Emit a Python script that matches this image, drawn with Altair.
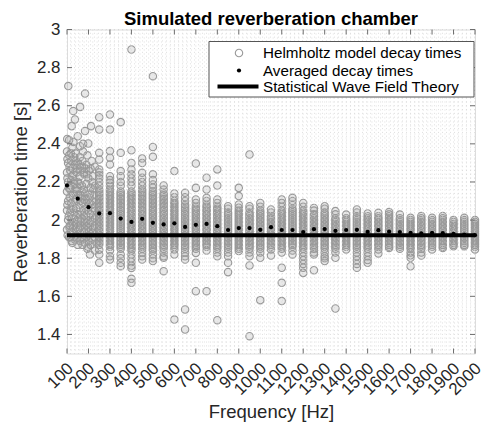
import altair as alt
import pandas as pd

# ---------------- data ----------------
avg_freqs = [100, 150, 200, 250, 300, 350, 400, 450, 500, 550, 600, 650, 700, 750,
             800, 850, 900, 950, 1000, 1050, 1100, 1150, 1200, 1250, 1300, 1350,
             1400, 1450, 1500, 1550, 1600, 1650, 1700, 1750, 1800, 1850, 1900,
             1950, 2000]
avg_times = [2.182, 2.112, 2.068, 2.035, 2.036, 2.008, 1.990, 2.007, 1.986, 1.977,
             1.983, 1.964, 1.975, 1.980, 1.968, 1.948, 1.958, 1.958, 1.949, 1.963,
             1.948, 1.948, 1.937, 1.952, 1.953, 1.944, 1.948, 1.949, 1.938, 1.947,
             1.939, 1.937, 1.933, 1.930, 1.933, 1.931, 1.928, 1.924, 1.921]
theory_time = 1.92

# low-frequency cloud (individual frequencies, 100-240 Hz)
cloud_freqs = [106, 184, 161, 129, 137, 122, 101, 212, 184, 199, 161,
               110, 150, 130, 175,
               100, 110, 125, 140, 160, 175, 195, 215,
               105, 120, 135, 150, 170, 190, 210, 230,
               100, 115, 130, 145, 160, 180, 200, 220,
               105, 120, 135, 150, 170, 190, 210, 230,
               100, 115, 130, 145, 165, 185, 205, 225,
               105, 120, 140, 155, 175, 195, 215,
               100, 115, 130, 150, 170, 190, 210, 230,
               105, 125, 145, 165, 185, 205, 225,
               100, 120, 140, 160, 180, 200, 220,
               110, 135, 160, 185, 210, 207, 195, 150, 125, 230,
               102, 112, 118, 127, 133, 142, 148, 157, 163, 172, 178, 187, 193, 202, 217, 223,
               102, 108, 113, 118, 123, 127, 133, 138, 143, 148, 153, 158, 163, 168, 173,
               178, 183, 188, 193, 198, 203, 208, 213, 218, 228, 235,
               102, 108, 113, 118, 123, 128, 133, 138, 143, 148, 153, 158, 163, 168, 173,
               178, 183, 188, 193, 198, 203, 208, 213, 218, 228, 235,
               103, 112, 117, 127, 132, 142, 147, 157, 167, 177, 192, 202, 217, 227, 237,
               122, 172, 197]
cloud_times = [2.703, 2.664, 2.594, 2.572, 2.528, 2.493, 2.426, 2.493, 2.467, 2.402, 2.388,
               2.42, 2.44, 2.41, 2.40,
               2.36, 2.34, 2.38, 2.35, 2.33, 2.36, 2.34, 2.31,
               2.30, 2.31, 2.29, 2.30, 2.28, 2.29, 2.27, 2.28,
               2.25, 2.26, 2.24, 2.25, 2.23, 2.24, 2.22, 2.23,
               2.20, 2.21, 2.19, 2.20, 2.18, 2.19, 2.17, 2.18,
               2.15, 2.16, 2.14, 2.15, 2.13, 2.14, 2.12, 2.13,
               2.10, 2.09, 2.10, 2.08, 2.09, 2.07, 2.08,
               2.05, 2.04, 2.06, 2.03, 2.04, 2.02, 2.03, 2.01,
               2.00, 1.99, 1.98, 1.99, 1.97, 1.98, 1.96,
               1.95, 1.94, 1.95, 1.93, 1.94, 1.92, 1.93,
               1.91, 1.90, 1.89, 1.88, 1.87, 1.82, 1.85, 1.87, 1.88, 1.84,
               2.32, 2.28, 2.35, 2.27, 2.33, 2.31, 2.27, 2.29, 2.26, 2.31, 2.25, 2.27, 2.24, 2.26, 2.20, 2.16,
               2.22, 2.17, 2.12, 2.18, 2.23, 2.13, 2.20, 2.16, 2.11, 2.17, 2.13, 2.19, 2.10, 2.15, 2.12,
               2.16, 2.11, 2.06, 2.10, 2.05, 2.09, 2.14, 2.05, 2.10, 2.06, 2.10,
               2.08, 2.02, 1.97, 2.06, 2.01, 1.96, 2.04, 1.99, 2.06, 2.00, 1.95, 2.03, 1.97, 2.01, 1.96,
               2.02, 1.99, 1.95, 2.00, 1.96, 1.94, 2.00, 1.95, 1.99, 1.97, 2.02,
               1.92, 1.96, 1.91, 1.93, 1.97, 1.92, 1.90, 1.96, 1.91, 1.90, 1.91, 1.89, 1.90, 1.91, 1.88,
               1.89, 1.87, 1.86]

band_freqs = [250, 300, 350, 400, 450, 500, 550, 600, 650, 700, 750, 800, 850, 900,
              950, 1000, 1050, 1100, 1150, 1200, 1250, 1300, 1350, 1400, 1450,
              1500, 1550, 1600, 1650, 1700, 1750, 1800, 1850, 1900, 1950, 2000]
band_times = [
    # 250
    [2.54, 2.475, 2.353, 2.318, 2.265, 2.25, 2.235, 2.22, 2.2, 2.18,
     2.16, 2.15, 2.14, 2.13, 2.12, 2.11, 2.10, 2.09, 2.08, 2.07, 2.06, 2.05, 2.04, 2.03, 2.02,
     2.01, 2.00, 1.99, 1.98, 1.97, 1.96, 1.95, 1.94, 1.93, 1.92, 1.91, 1.90, 1.89, 1.88, 1.87,
     1.845, 1.82, 1.776],
    # 300
    [2.554, 2.475, 2.362, 2.327, 2.292, 2.23, 2.21, 2.196, 2.18,
     2.16, 2.15, 2.14, 2.13, 2.12, 2.11, 2.10, 2.09, 2.08, 2.07, 2.06, 2.05, 2.04, 2.03, 2.02,
     2.01, 2.00, 1.99, 1.98, 1.97, 1.96, 1.95, 1.94, 1.93, 1.92, 1.91, 1.90, 1.89, 1.88, 1.87, 1.86,
     1.84, 1.81, 1.793],
    # 350
    [2.514, 2.353, 2.257, 2.23, 2.2, 2.18,
     2.15, 2.14, 2.13, 2.12, 2.11, 2.10, 2.09, 2.08, 2.07, 2.06, 2.05, 2.04, 2.03, 2.02,
     2.01, 2.00, 1.99, 1.98, 1.97, 1.96, 1.95, 1.94, 1.93, 1.92, 1.91, 1.90, 1.89, 1.88, 1.87, 1.86, 1.85,
     1.82, 1.8, 1.776, 1.758],
    # 400
    [2.895, 2.367, 2.3, 2.265, 2.24, 2.22, 2.2, 2.18,
     2.15, 2.14, 2.13, 2.12, 2.11, 2.10, 2.09, 2.08, 2.07, 2.06, 2.05, 2.04, 2.03, 2.02,
     2.01, 2.00, 1.99, 1.98, 1.97, 1.96, 1.95, 1.94, 1.93, 1.92, 1.91, 1.90, 1.89, 1.88, 1.87, 1.86, 1.85, 1.84,
     1.82, 1.8, 1.78, 1.76, 1.749, 1.692, 1.671],
    # 450
    [2.323, 2.3, 2.248, 2.222, 2.2, 2.18,
     2.16, 2.15, 2.14, 2.13, 2.12, 2.11, 2.10, 2.09, 2.08, 2.07, 2.06, 2.05, 2.04, 2.03, 2.02,
     2.01, 2.00, 1.99, 1.98, 1.97, 1.96, 1.95, 1.94, 1.93, 1.92, 1.91, 1.90, 1.89, 1.88, 1.87, 1.86, 1.85,
     1.83, 1.81, 1.793],
    # 500
    [2.755, 2.384, 2.332, 2.24, 2.21, 2.187, 2.17,
     2.15, 2.14, 2.13, 2.12, 2.11, 2.10, 2.09, 2.08, 2.07, 2.06, 2.05, 2.04, 2.03, 2.02,
     2.01, 2.00, 1.99, 1.98, 1.97, 1.96, 1.95, 1.94, 1.93, 1.92, 1.91, 1.90, 1.89, 1.88, 1.87, 1.86, 1.85, 1.84,
     1.82, 1.8, 1.785],
    # 550
    [2.182, 2.16,
     2.14, 2.13, 2.12, 2.11, 2.10, 2.09, 2.08, 2.07, 2.06, 2.05, 2.04, 2.03, 2.02,
     2.01, 2.00, 1.99, 1.98, 1.97, 1.96, 1.95, 1.94, 1.93, 1.92, 1.91, 1.90, 1.89, 1.88, 1.87, 1.86, 1.85,
     1.83, 1.81, 1.802, 1.732],
    # 600
    [2.257, 2.14, 2.12,
     2.10, 2.09, 2.08, 2.07, 2.06, 2.05, 2.04, 2.03, 2.02,
     2.01, 2.00, 1.99, 1.98, 1.97, 1.96, 1.95, 1.94, 1.93, 1.92, 1.91, 1.90, 1.89, 1.88, 1.87, 1.86,
     1.846, 1.82, 1.478],
    # 650
    [2.143, 2.12, 2.1,
     2.08, 2.07, 2.06, 2.05, 2.04, 2.03, 2.02,
     2.01, 2.00, 1.99, 1.98, 1.97, 1.96, 1.95, 1.94, 1.93, 1.92, 1.91, 1.90, 1.89, 1.88, 1.87, 1.86, 1.85,
     1.83, 1.81, 1.793, 1.531, 1.426],
    # 700
    [2.297, 2.169, 2.108, 2.09,
     2.07, 2.06, 2.05, 2.04, 2.03, 2.02,
     2.01, 2.00, 1.99, 1.98, 1.97, 1.96, 1.95, 1.94, 1.93, 1.92, 1.91, 1.90, 1.89, 1.88, 1.87, 1.86, 1.85,
     1.828, 1.776, 1.627],
    # 750
    [2.222, 2.16, 2.117, 2.1,
     2.08, 2.07, 2.06, 2.05, 2.04, 2.03, 2.02,
     2.01, 2.00, 1.99, 1.98, 1.97, 1.96, 1.95, 1.94, 1.93, 1.92, 1.91, 1.90, 1.89, 1.88, 1.87, 1.86,
     1.84, 1.627],
    # 800
    [2.266, 2.181, 2.108, 2.09,
     2.07, 2.06, 2.05, 2.04, 2.03, 2.02,
     2.01, 2.00, 1.99, 1.98, 1.97, 1.96, 1.95, 1.94, 1.93, 1.92, 1.91, 1.90, 1.89, 1.88, 1.87, 1.86, 1.85,
     1.83, 1.81, 1.475],
    # 850
    [2.073, 2.06,
     2.04, 2.03, 2.02,
     2.01, 2.00, 1.99, 1.98, 1.97, 1.96, 1.95, 1.94, 1.93, 1.92, 1.91, 1.90, 1.89, 1.88, 1.87, 1.86, 1.85,
     1.83, 1.81, 1.776, 1.727],
    # 900
    [2.169, 2.126, 2.082, 2.065,
     2.05, 2.04, 2.03, 2.02,
     2.01, 2.00, 1.99, 1.98, 1.97, 1.96, 1.95, 1.94, 1.93, 1.92, 1.91, 1.90, 1.89, 1.88, 1.87, 1.86, 1.85,
     1.838],
    # 950
    [2.344, 2.073, 2.06,
     2.04, 2.03, 2.02,
     2.01, 2.00, 1.99, 1.98, 1.97, 1.96, 1.95, 1.94, 1.93, 1.92, 1.91, 1.90, 1.89, 1.88, 1.87, 1.86, 1.85,
     1.83, 1.81, 1.762, 1.391],
    # 1000
    [2.09, 2.07,
     2.05, 2.04, 2.03, 2.02,
     2.01, 2.00, 1.99, 1.98, 1.97, 1.96, 1.95, 1.94, 1.93, 1.92, 1.91, 1.90, 1.89, 1.88, 1.87, 1.86, 1.85,
     1.83, 1.802, 1.58],
    # 1050
    [2.056, 2.04,
     2.02, 2.01, 2.00, 1.99, 1.98, 1.97, 1.96, 1.95, 1.94, 1.93, 1.92, 1.91, 1.90, 1.89, 1.88, 1.87, 1.86,
     1.846, 1.814],
    # 1100
    [2.108, 2.09, 2.07,
     2.05, 2.04, 2.03, 2.02,
     2.01, 2.00, 1.99, 1.98, 1.97, 1.96, 1.95, 1.94, 1.93, 1.92, 1.91, 1.90, 1.89, 1.88, 1.87, 1.86,
     1.85, 1.83, 1.75, 1.671, 1.575],
    # 1150
    [2.117, 2.1, 2.08,
     2.06, 2.05, 2.04, 2.03, 2.02,
     2.01, 2.00, 1.99, 1.98, 1.97, 1.96, 1.95, 1.94, 1.93, 1.92, 1.91, 1.90, 1.89, 1.88, 1.87, 1.86,
     1.84, 1.82],
    # 1200
    [2.09, 2.07,
     2.05, 2.04, 2.03, 2.02,
     2.01, 2.00, 1.99, 1.98, 1.97, 1.96, 1.95, 1.94, 1.93, 1.92, 1.91, 1.90, 1.89, 1.88, 1.87, 1.86, 1.85,
     1.83, 1.81, 1.79, 1.77, 1.75, 1.723],
    # 1250
    [2.064, 2.05,
     2.03, 2.02,
     2.01, 2.00, 1.99, 1.98, 1.97, 1.96, 1.95, 1.94, 1.93, 1.92, 1.91, 1.90, 1.89, 1.88, 1.87, 1.86, 1.85,
     1.83, 1.82, 1.737],
    # 1300
    [2.073, 2.06,
     2.04, 2.03, 2.02,
     2.01, 2.00, 1.99, 1.98, 1.97, 1.96, 1.95, 1.94, 1.93, 1.92, 1.91, 1.90, 1.89, 1.88, 1.87, 1.86, 1.85,
     1.83, 1.81, 1.8, 1.785],
    # 1350
    [2.047, 2.03,
     2.01, 2.00, 1.99, 1.98, 1.97, 1.96, 1.95, 1.94, 1.93, 1.92, 1.91, 1.90, 1.89, 1.88, 1.87, 1.86, 1.85,
     1.83, 1.802, 1.536],
    # 1400
    [2.029,
     2.01, 2.00, 1.99, 1.98, 1.97, 1.96, 1.95, 1.94, 1.93, 1.92, 1.91, 1.90, 1.89, 1.88, 1.87, 1.86,
     1.846],
    # 1450
    [2.056, 2.04,
     2.02, 2.01, 2.00, 1.99, 1.98, 1.97, 1.96, 1.95, 1.94, 1.93, 1.92, 1.91, 1.90, 1.89, 1.88, 1.87, 1.86, 1.85,
     1.83, 1.81, 1.79, 1.77, 1.75],
    # 1500
    [2.035,
     2.02, 2.01, 2.00, 1.99, 1.98, 1.97, 1.96, 1.95, 1.94, 1.93, 1.92, 1.91, 1.90, 1.89, 1.88, 1.87, 1.86, 1.85,
     1.83, 1.81, 1.79, 1.776],
    # 1550
    [2.038,
     2.02, 2.01, 2.00, 1.99, 1.98, 1.97, 1.96, 1.95, 1.94, 1.93, 1.92, 1.91, 1.90, 1.89, 1.88, 1.87, 1.86,
     1.846, 1.825],
    # 1600
    [2.042,
     2.03, 2.02, 2.01, 2.00, 1.99, 1.98, 1.97, 1.96, 1.95, 1.94, 1.93, 1.92, 1.91, 1.90, 1.89, 1.88, 1.87, 1.86,
     1.854],
    # 1650
    [2.029,
     2.01, 2.00, 1.99, 1.98, 1.97, 1.96, 1.95, 1.94, 1.93, 1.92, 1.91, 1.90, 1.89, 1.88, 1.87, 1.86,
     1.85],
    # 1700
    [2.012,
     2.00, 1.99, 1.98, 1.97, 1.96, 1.95, 1.94, 1.93, 1.92, 1.91, 1.90, 1.89, 1.88, 1.87, 1.86, 1.85,
     1.83, 1.815, 1.802, 1.758],
    # 1750
    [2.021,
     2.01, 2.00, 1.99, 1.98, 1.97, 1.96, 1.95, 1.94, 1.93, 1.92, 1.91, 1.90, 1.89, 1.88, 1.87, 1.86, 1.85,
     1.83, 1.814],
    # 1800
    [2.012,
     2.00, 1.99, 1.98, 1.97, 1.96, 1.95, 1.94, 1.93, 1.92, 1.91, 1.90, 1.89, 1.88, 1.87, 1.86,
     1.846],
    # 1850
    [2.021,
     2.01, 2.00, 1.99, 1.98, 1.97, 1.96, 1.95, 1.94, 1.93, 1.92, 1.91, 1.90, 1.89, 1.88, 1.87, 1.86,
     1.854],
    # 1900
    [2.0,
     1.99, 1.98, 1.97, 1.96, 1.95, 1.94, 1.93, 1.92, 1.91, 1.90, 1.89, 1.88, 1.87,
     1.863],
    # 1950
    [2.012,
     2.00, 1.99, 1.98, 1.97, 1.96, 1.95, 1.94, 1.93, 1.92, 1.91, 1.90, 1.89, 1.88, 1.87,
     1.863],
    # 2000
    [2.0,
     1.99, 1.98, 1.97, 1.96, 1.95, 1.94, 1.93, 1.92, 1.91, 1.90, 1.89, 1.88, 1.87, 1.86,
     1.846],
]

x_tick_values = [100, 200, 300, 400, 500, 600, 700, 800, 900, 1000, 1100, 1200,
                 1300, 1400, 1500, 1600, 1700, 1800, 1900, 2000]
y_tick_values = [1.4, 1.6, 1.8, 2.0, 2.2, 2.4, 2.6, 2.8, 3.0]

chart_title = "Simulated reverberation chamber"
x_title = "Frequency [Hz]"
y_title = "Reverberation time [s]"
legend_labels = ["Helmholtz model decay times", "Averaged decay times",
                 "Statistical Wave Field Theory"]

# ---------------- tables ----------------
rows = [{"f": f, "t": t} for f, t in zip(cloud_freqs, cloud_times)]
for f, ts in zip(band_freqs, band_times):
    rows += [{"f": f, "t": t} for t in ts]
scatter_df = pd.DataFrame(rows)
avg_df = pd.DataFrame({"f": avg_freqs, "t": avg_times})
theory_df = pd.DataFrame({"f": [avg_freqs[0]], "f2": [avg_freqs[-1]], "t": [theory_time]})
grid_x_df = pd.DataFrame({"f": list(range(100, 2001, 20))})
grid_y_df = pd.DataFrame({"t": [round(1.3 + 0.02 * i, 2) for i in range(86)]})
xt_df = pd.DataFrame({"f": x_tick_values})
yt_df = pd.DataFrame({"t": y_tick_values})
one = pd.DataFrame({"a": [0]})

W, H = 408, 324
FONT = "Liberation Sans"
AX = "#6e6e6e"
TXT = "#262626"
CIRC = "#999999"

xs = alt.Scale(domain=[100, 2000], nice=False, zero=False)
ys = alt.Scale(domain=[1.3, 3.0], nice=False, zero=False)

X_AXIS = alt.Axis(values=x_tick_values, format="d", grid=False, ticks=False, domain=False,
                  labelAngle=315, labelAlign="right", labelBaseline="middle",
                  labelPadding=12, labelOffset=3, labelFont=FONT, labelFontSize=16.9,
                  labelColor=TXT, labelOverlap=False, labelFlush=False, labelBound=False,
                  titleFont=FONT, titleFontSize=18.5, titleFontWeight="normal",
                  titleColor=TXT, titleX=204, titleY=64, titleAlign="center",
                  titleBaseline="alphabetic")
Y_AXIS = alt.Axis(values=y_tick_values, format=".1~f", grid=False, ticks=False,
                  domain=False, labelPadding=7, labelFont=FONT, labelFontSize=16.9,
                  labelColor=TXT, labelOverlap=False, labelFlush=False, labelBound=False,
                  titleFont=FONT, titleFontSize=18.5, titleFontWeight="normal",
                  titleColor=TXT, titleAngle=270, titleX=-41, titleY=162,
                  titleAlign="center", titleBaseline="alphabetic")


def X(field):
    return alt.X(field, scale=xs, title=x_title, axis=X_AXIS)


def Y(field):
    return alt.Y(field, scale=ys, title=y_title, axis=Y_AXIS)


scatter = alt.Chart(scatter_df).mark_point(
    shape="circle", filled=True, fill=CIRC, fillOpacity=0.22,
    stroke=CIRC, strokeWidth=1.1, strokeOpacity=1, size=55
).encode(x=X("f:Q"), y=Y("t:Q"))

grid_style = dict(color="#d2d2d2", strokeWidth=0.7, strokeDash=[1, 3])
grid_x = alt.Chart(grid_x_df).mark_rule(**grid_style).encode(x=X("f:Q"))
grid_y = alt.Chart(grid_y_df).mark_rule(**grid_style).encode(y=Y("t:Q"))

theory = alt.Chart(theory_df).mark_rule(color="black", strokeWidth=4).encode(
    x=X("f:Q"), x2="f2:Q", y=Y("t:Q"))

avg = alt.Chart(avg_df).mark_point(shape="circle", filled=True, size=18, color="black",
                                   opacity=1).encode(x=X("f:Q"), y=Y("t:Q"))

tick_style = dict(color=AX, strokeWidth=1)
xt_bottom = alt.Chart(xt_df).mark_rule(**tick_style).encode(
    x=X("f:Q"), y=alt.value(H), y2=alt.value(H - 5))
xt_top = alt.Chart(xt_df).mark_rule(**tick_style).encode(
    x=X("f:Q"), y=alt.value(0), y2=alt.value(5))
yt_left = alt.Chart(yt_df).mark_rule(**tick_style).encode(
    y=Y("t:Q"), x=alt.value(0), x2=alt.value(5))
yt_right = alt.Chart(yt_df).mark_rule(**tick_style).encode(
    y=Y("t:Q"), x=alt.value(W - 5), x2=alt.value(W))

# title drawn as text above the plot
title_mark = alt.Chart(one).mark_text(
    text=chart_title, font=FONT, fontSize=18.5, fontWeight="bold", color="black",
    align="center", baseline="alphabetic").encode(x=alt.value(W / 2), y=alt.value(-5))

# legend (drawn by hand inside the plot)
leg_box = alt.Chart(one).mark_rect(fill="white", stroke="#555555", strokeWidth=1).encode(
    x=alt.value(142), x2=alt.value(407), y=alt.value(12), y2=alt.value(67.5))
leg_c = alt.Chart(one).mark_point(shape="circle", filled=False, size=55, stroke=CIRC,
                                  strokeWidth=1.1, opacity=1).encode(x=alt.value(172), y=alt.value(23.5))
leg_d = alt.Chart(one).mark_point(shape="circle", filled=True, size=18, color="black",
                                  opacity=1).encode(x=alt.value(172), y=alt.value(41))
leg_l = alt.Chart(one).mark_rule(color="black", strokeWidth=4).encode(
    x=alt.value(150.5), x2=alt.value(191.5), y=alt.value(57))
leg_texts = []
for lab, yy in zip(legend_labels, [23.5, 41, 57]):
    leg_texts.append(alt.Chart(one).mark_text(
        text=lab, font=FONT, fontSize=15.2, color="black", align="left", baseline="middle"
    ).encode(x=alt.value(196), y=alt.value(yy)))

chart = alt.layer(
    scatter, grid_x, grid_y, theory, avg, xt_bottom, xt_top, yt_left, yt_right,
    leg_box, leg_c, leg_d, leg_l, *leg_texts, title_mark
).properties(
    width=W, height=H,
    padding={"left": 67, "top": 29.5, "right": 10, "bottom": 70},
    autosize="none",
).configure_view(stroke=AX, strokeWidth=1).configure(background="white")

chart.save("out.html", embed_options={"renderer": "svg", "actions": False})
